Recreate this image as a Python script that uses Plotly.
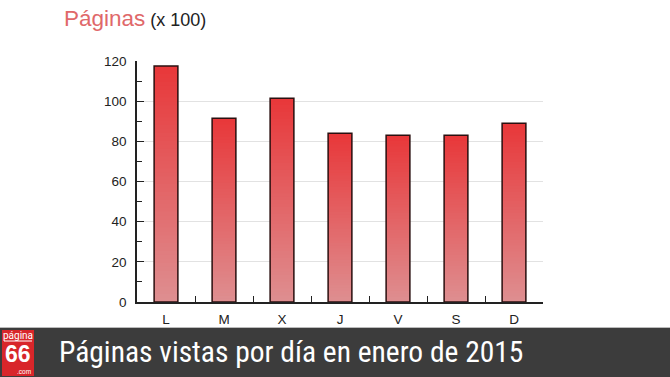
import plotly.graph_objects as go

# ---- data ----
dias = ["L", "M", "X", "J", "V", "S", "D"]
paginas = [117.5, 91.5, 101.5, 84, 83, 83, 89]
y_ticks = [0, 20, 40, 60, 80, 100, 120]

W, H = 670, 377
L_, R_, T_, B_ = 137, 127, 61, 75
PW, PH = W - L_ - R_, H - T_ - B_

def px(x):  # pixel -> paper x
    return (x - L_) / PW

def py(y):  # pixel (from top) -> paper y
    return (H - B_ - y) / PH

top_c = (232, 56, 58)
bot_c = (222, 142, 144)
N = 60

fig = go.Figure()
# gradient: overlapping bars, each shorter one painted over the previous
for i in range(N):
    f = (N - i) / N
    c = tuple(round(top_c[k] + (bot_c[k] - top_c[k]) * (i / (N - 1))) for k in range(3))
    fig.add_trace(go.Bar(
        x=dias, y=[v * f for v in paginas], width=0.41,
        marker=dict(color="rgb(%d,%d,%d)" % c, line=dict(width=0)),
        hoverinfo="skip", showlegend=False))
# outline
fig.add_trace(go.Bar(
    x=dias, y=paginas, width=0.41,
    marker=dict(color="rgba(0,0,0,0)", line=dict(color="#2a1010", width=1.5)),
    showlegend=False))

fig.update_layout(
    width=W, height=H, barmode="overlay",
    margin=dict(l=L_, r=R_, t=T_, b=B_),
    paper_bgcolor="white", plot_bgcolor="white",
    font=dict(family="Liberation Sans, Arial, sans-serif", size=13, color="#222"),
    xaxis=dict(type="category", showline=True, linecolor="#222", linewidth=1.5,
               ticks="inside", ticklen=6, tickcolor="#222", tickson="boundaries",
               showgrid=False, tickfont=dict(size=13.5), ticklabelstandoff=4),
    yaxis=dict(range=[0, 120], tickvals=y_ticks, showline=True, linecolor="#222",
               linewidth=1.5, ticks="inside", ticklen=7, tickcolor="#222",
               showgrid=True, gridcolor="#e2e2e2", gridwidth=1,
               tickfont=dict(size=13.5), zeroline=False, ticklabelstandoff=6,
               minor=dict(ticks="inside", ticklen=5, dtick=10, tickcolor="#222",
                          showgrid=False)),
    shapes=[
        dict(type="rect", xref="paper", yref="paper", x0=px(0), x1=px(W), y0=py(H), y1=py(328),
             fillcolor="#3c3c3c", line=dict(width=0), layer="above"),
        dict(type="line", xref="paper", yref="paper", x0=px(0), x1=px(W), y0=py(327.5), y1=py(327.5),
             line=dict(color="#bbbbbb", width=1)),
        dict(type="rect", xref="paper", yref="paper", x0=px(2), x1=px(34), y0=py(376), y1=py(330),
             fillcolor="#d8262a", line=dict(width=0), layer="above"),
        dict(type="line", xref="paper", yref="paper", x0=px(4), x1=px(32), y0=py(341), y1=py(341),
             line=dict(color="white", width=1), layer="above"),
    ],
    annotations=[
        dict(xref="paper", yref="paper", x=px(62), y=py(19), xanchor="left", yanchor="middle",
             showarrow=False,
             text="<span style='font-size:22.5px;color:#e0686a'>Páginas</span> (x 100)",
             font=dict(size=18, color="#222", family="Liberation Sans, Arial, sans-serif")),
        dict(xref="paper", yref="paper", x=px(57), y=py(352), xanchor="left", yanchor="middle",
             showarrow=False, text="Páginas vistas por día en enero de 2015",
             font=dict(size=29.5, color="white",
                       family="Roboto Condensed, Liberation Sans Narrow, DejaVu Sans Condensed, Roboto")),
        dict(xref="paper", yref="paper", x=px(18), y=py(335), xanchor="center", yanchor="middle",
             showarrow=False, text="página",
             font=dict(size=10, color="white", family="Liberation Sans Narrow, Roboto")),
        dict(xref="paper", yref="paper", x=px(18), y=py(354), xanchor="center", yanchor="middle",
             showarrow=False, text="<b>66</b>",
             font=dict(size=23, color="white", family="Liberation Sans, Arial")),
        dict(xref="paper", yref="paper", x=px(24), y=py(371.5), xanchor="center", yanchor="middle",
             showarrow=False, text=".com",
             font=dict(size=6.5, color="white", family="Liberation Sans, Arial")),
    ],
)

fig.write_html("out.html", config={"displayModeBar": False},
               post_script="document.body.style.margin='0';document.body.style.overflow='hidden';")
